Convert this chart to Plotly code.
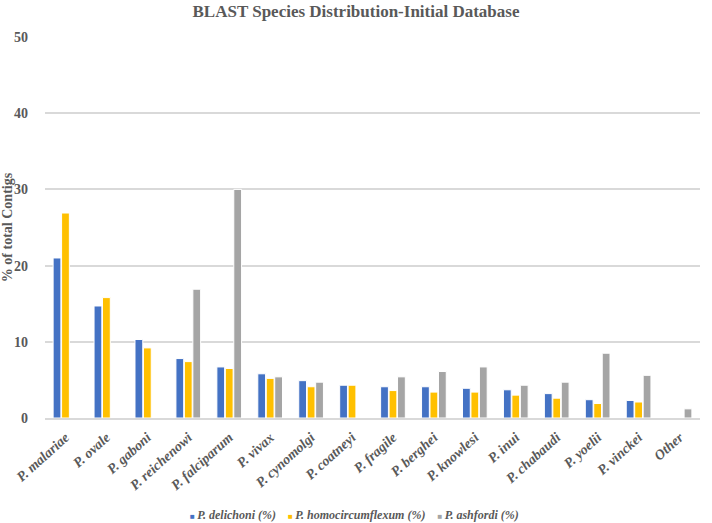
import plotly.graph_objects as go

categories = ["P. malariae", "P. ovale", "P. gaboni", "P. reichenowi", "P. falciparum",
              "P. vivax", "P. cynomolgi", "P. coatneyi", "P. fragile", "P. berghei",
              "P. knowlesi", "P. inui", "P. chabaudi", "P. yoelii", "P. vinckei", "Other"]
delichoni = [21.0, 14.7, 10.3, 7.8, 6.7, 5.8, 4.9, 4.3, 4.1, 4.1, 3.9, 3.7, 3.2, 2.4, 2.3, 0]
homocircumflexum = [26.9, 15.8, 9.2, 7.4, 6.5, 5.2, 4.1, 4.3, 3.6, 3.4, 3.4, 3.0, 2.6, 1.9, 2.1, 0]
ashfordi = [0, 0, 0, 16.9, 30.0, 5.4, 4.7, 0, 5.4, 6.1, 6.7, 4.3, 4.7, 8.5, 5.6, 1.2]
series_names = ["P. delichoni (%)", "P. homocircumflexum (%)", "P. ashfordi (%)"]
colors = ["#4472C4", "#FFC000", "#A5A5A5"]
y_ticks = [0, 10, 20, 30, 40, 50]

font_family = "Liberation Serif, Times New Roman, serif"
txt = "#595959"

fig = go.Figure()
for name, vals, c in zip(series_names, [delichoni, homocircumflexum, ashfordi], colors):
    fig.add_trace(go.Bar(x=categories, y=vals, name=name, showlegend=False,
                         marker=dict(color=c, line=dict(color="white", width=1))))

# compact legend (small square keys close to their labels, as in the reference)
legend_text = "&nbsp;&nbsp;&nbsp;&nbsp;".join(
    "<span style='color:%s;font-size:8px'>■</span>&#8201;<b><i>%s</i></b>" % (c, n)
    for n, c in zip(series_names, colors))
fig.add_annotation(text=legend_text, xref="paper", yref="paper", x=0.473, y=-0.255,
                   xanchor="center", yanchor="middle", showarrow=False,
                   font=dict(size=12, family=font_family, color=txt))

fig.update_layout(
    width=712, height=523, showlegend=False,
    barmode="group", bargap=0.38, bargroupgap=0.08,
    plot_bgcolor="white", paper_bgcolor="white",
    font=dict(family=font_family, color=txt),
    title=dict(text="<b>BLAST Species Distribution-Initial Database</b>",
               x=0.5, xanchor="center", xref="container", yref="container",
               y=0.99, yanchor="top", automargin=False,
               font=dict(size=17, family=font_family, color=txt)),
    margin=dict(l=45, r=12, t=37, b=105, autoexpand=False),
    yaxis=dict(range=[0, 50], tickvals=y_ticks,
               ticktext=["<b>%d</b>" % v for v in y_ticks],
               gridcolor="#D9D9D9", gridwidth=1.5, zeroline=False, automargin=False,
               showline=False, ticks="", ticklabelstandoff=16,
               tickfont=dict(size=14, family=font_family, color=txt),
               title=dict(text="<b>% of total Contigs</b>", standoff=5,
                          font=dict(size=14, family=font_family, color=txt))),
    xaxis=dict(tickvals=categories, automargin=False,
               ticktext=["<b><i>" + c + "</i></b>" for c in categories],
               tickangle=-42, showline=True, linecolor="#D9D9D9", linewidth=1.5,
               ticks="", ticklabelstandoff=4,
               tickfont=dict(size=14, family=font_family, color=txt)),
)

fig.write_html("out.html", config={"displayModeBar": False},
               post_script="document.body.style.margin='0';")
